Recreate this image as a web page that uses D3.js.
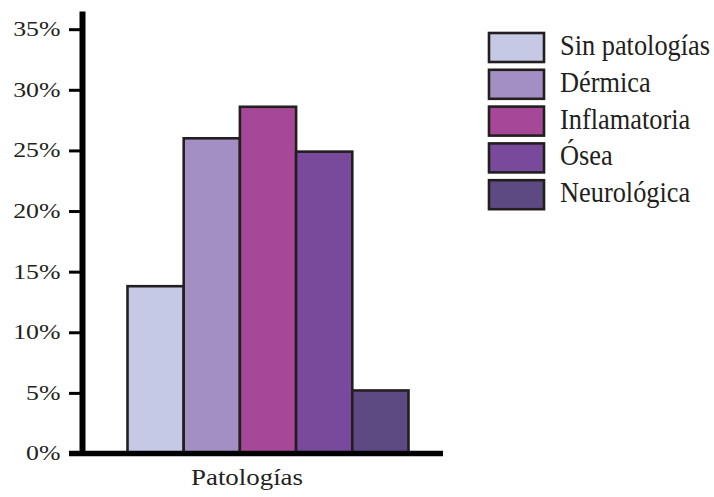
<!DOCTYPE html>
<html>
<head>
<meta charset="utf-8">
<script src="https://cdn.jsdelivr.net/npm/d3@7"></script>
<style>
  body { margin: 0; background: #fff; }
  text { font-family: "Liberation Serif", "Times New Roman", serif; fill: #231f20; }
</style>
</head>
<body>
<div class="canvas"></div>
<script>
// data
const categories = ['Sin patologías', 'Dérmica', 'Inflamatoria', 'Ósea', 'Neurológica'];
const values = [13.8, 26.0, 28.6, 24.9, 5.2];
const colours = ['#c5c9e6', '#a38fc3', '#a64897', '#794a9b', '#5d4a82'];
const tickValues = [0, 5, 10, 15, 20, 25, 30, 35];
const xTitle = 'Patologías';

const dims = { width: 714, height: 497 };

const svg = d3.select('.canvas')
    .append('svg')
    .attr('width', dims.width)
    .attr('height', dims.height);

const y = d3.scaleLinear()
    .domain([0, 36.5])
    .range([453.5, 11]);

const x = d3.scaleBand()
    .domain(categories)
    .range([127.5, 408.5])
    .padding(0);

const colour = d3.scaleOrdinal()
    .domain(categories)
    .range(colours);

// bars
svg.append('g')
    .selectAll('rect')
    .data(categories)
    .enter()
    .append('rect')
    .attr('x', d => x(d))
    .attr('width', x.bandwidth())
    .attr('y', (d, i) => y(values[i]))
    .attr('height', (d, i) => y(0) - y(values[i]))
    .attr('fill', d => colour(d))
    .attr('stroke', '#231f20')
    .attr('stroke-width', 2.6);

// y axis
const yAxis = d3.axisLeft(y)
    .tickValues(tickValues)
    .tickSize(13)
    .tickSizeOuter(0)
    .tickFormat(d => d + '%');

const yGroup = svg.append('g')
    .attr('transform', 'translate(82, 0)')
    .call(yAxis);

yGroup.select('.domain')
    .attr('stroke', '#000')
    .attr('stroke-width', 6);

yGroup.selectAll('.tick line')
    .attr('stroke', '#000')
    .attr('stroke-width', 3);

yGroup.selectAll('.tick text')
    .attr('font-family', null)
    .attr('font-size', null)
    .style('font-size', '20px')
    .attr('x', -16.7)
    .attr('transform', 'scale(1.29,1)');

// baseline
svg.append('line')
    .attr('x1', 69)
    .attr('x2', 443)
    .attr('y1', y(0))
    .attr('y2', y(0))
    .attr('stroke', '#000')
    .attr('stroke-width', 5.5);

// x title
svg.append('text')
    .attr('transform', 'translate(247, 485) scale(1.19,1)')
    .attr('text-anchor', 'middle')
    .style('font-size', '22.6px')
    .text(xTitle);

// legend
const legendGroup = svg.append('g')
    .attr('transform', 'translate(489, 33)');

const items = legendGroup.selectAll('g')
    .data(categories)
    .enter()
    .append('g')
    .attr('transform', (d, i) => `translate(0, ${i * 36.8})`);

items.append('rect')
    .attr('width', 55)
    .attr('height', 29)
    .attr('fill', d => colour(d))
    .attr('stroke', '#231f20')
    .attr('stroke-width', 2.6);

items.append('text')
    .attr('transform', 'translate(71, 22) scale(0.925,1)')
    .style('font-size', '28.5px')
    .text(d => d);
</script>
</body>
</html>
